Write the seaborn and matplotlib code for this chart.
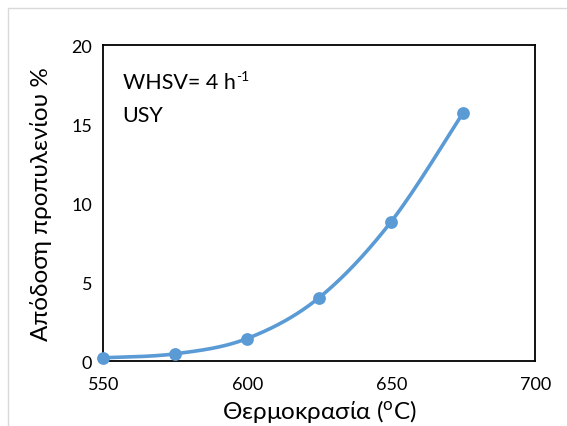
import numpy as np
import pandas as pd
import matplotlib.pyplot as plt
import seaborn as sns
from matplotlib.patches import Rectangle

temperature = [550, 575, 600, 625, 650, 675]
yield_pct = [0.21, 0.46, 1.43, 4.02, 8.83, 15.73]

x_ticks = [550, 600, 650, 700]
y_ticks = [0, 5, 10, 15, 20]

blue = '#5B9BD5'

sns.set_theme(style='white')
plt.rcParams['font.family'] = ['Lato', 'DejaVu Sans']
plt.rcParams['mathtext.default'] = 'regular'

df = pd.DataFrame({'T': temperature, 'Y': yield_pct})


# smooth line like Excel's (bezier with catmull-rom tangents, in axis units)
def smooth(xs, ys, xr, yr, n=40):
    px = (np.asarray(xs, float) - xr[0]) / (xr[1] - xr[0])
    py = (np.asarray(ys, float) - yr[0]) / (yr[1] - yr[0]) * 0.73
    P = np.column_stack([px, py])
    out = []
    for i in range(len(P) - 1):
        p0 = P[i - 1] if i > 0 else P[i]
        p3 = P[i + 2] if i + 2 < len(P) else P[i + 1]
        c1 = P[i] + (P[i + 1] - p0) / 6
        c2 = P[i + 1] - (p3 - P[i]) / 6
        t = np.linspace(0, 1, n)[:, None]
        seg = ((1 - t) ** 3) * P[i] + 3 * ((1 - t) ** 2) * t * c1 + 3 * (1 - t) * t ** 2 * c2 + t ** 3 * P[i + 1]
        out.append(seg)
    S = np.vstack(out)
    sx = S[:, 0] * (xr[1] - xr[0]) + xr[0]
    sy = S[:, 1] / 0.73 * (yr[1] - yr[0]) + yr[0]
    return sx, sy


fig = plt.figure(figsize=(5.67, 4.27), dpi=100)
ax = fig.add_axes([0.182, 0.152, 0.762, 0.740])

sx, sy = smooth(temperature, yield_pct, (550, 700), (0, 20))
curve = pd.DataFrame({'T': sx, 'Y': sy})
sns.lineplot(data=curve, x='T', y='Y', ax=ax, color=blue, linewidth=2.6, sort=False,
             estimator=None, zorder=3, clip_on=False)
sns.scatterplot(data=df, x='T', y='Y', ax=ax, color=blue, s=85, edgecolor=blue,
                linewidth=0, zorder=4, clip_on=False)

ax.set_xlim(550, 700)
ax.set_ylim(0, 20)
ax.set_xticks(x_ticks)
ax.set_yticks(y_ticks)
ax.tick_params(direction='in', length=5, width=1.2, colors='black', labelsize=13,
               pad=8)
ax.tick_params(axis='x', pad=11)
for s in ax.spines.values():
    s.set_color('black')
    s.set_linewidth(1.3)

ax.set_xlabel('Θερμοκρασία ($^{o}$C)', fontsize=17.5, labelpad=3, color='black')
ax.set_ylabel('Απόδοση προπυλενίου %', fontsize=17.5, labelpad=14, color='black')

t1 = ax.text(0.045, 0.865, 'WHSV= 4 h', transform=ax.transAxes, fontsize=15.5,
             color='black')
ax.annotate('-1', xy=(1, 1), xycoords=t1, xytext=(0.5, 1),
            textcoords='offset points', fontsize=10, color='black',
            ha='left', va='top')
ax.text(0.045, 0.76, 'USY', transform=ax.transAxes, fontsize=15.5, color='black')

# light chart border like the Excel frame
fig.patches.append(Rectangle((8 / 567, -0.1), 1.2, 1 - 9 / 427 + 0.1,
                             transform=fig.transFigure, fill=False,
                             edgecolor='#D9D9D9', linewidth=1))

fig.savefig('out.png', dpi=100)
